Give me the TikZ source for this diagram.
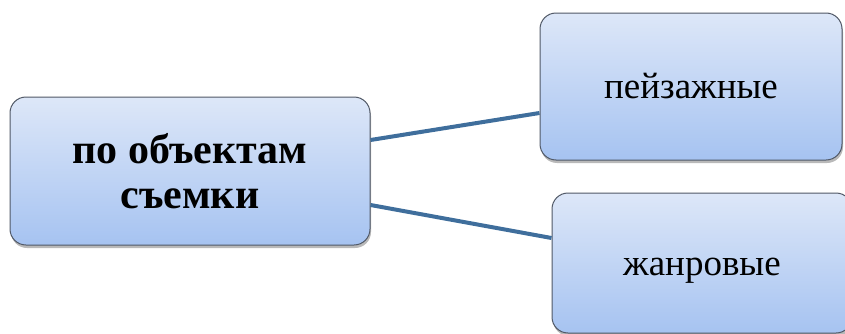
\documentclass[tikz,border=0pt]{standalone}
\usepackage{fontspec}
\setmainfont{Liberation Serif}
\usetikzlibrary{shadows}
\definecolor{boxtop}{HTML}{DDE7F8}
\definecolor{boxbot}{HTML}{A6C3F1}
\definecolor{boxedge}{HTML}{505866}
\definecolor{conn}{HTML}{3F6E9C}
\tikzset{
  box/.style={draw=boxedge, line width=1pt, rounded corners=16pt,
    top color=boxtop, bottom color=boxbot, align=center,
    inner sep=0pt, drop shadow={shadow xshift=1pt, shadow yshift=-3pt, fill=black!50, opacity=0.55}},
  link/.style={draw=conn, line width=4pt}
}
\begin{document}
\begin{tikzpicture}[x=1pt,y=1pt]
\useasboundingbox (0,0) rectangle (845,333);
\node[box, minimum width=360pt, minimum height=148pt,
  font=\fontsize{42}{45}\selectfont\bfseries] (L) at (190,162) {по объектам\\съемки};
\node[box, minimum width=302pt, minimum height=147pt,
  font=\fontsize{37}{40}\selectfont] (T) at (691,246.5) {пейзажные};
\node[box, minimum width=300pt, minimum height=140pt,
  font=\fontsize{37}{40}\selectfont, text depth=0pt] (B) at (702,70) {\raisebox{-7pt}{жанровые}};
\draw[link] ([yshift=31pt]L.east) -- ([yshift=-26.5pt]T.west);
\draw[link] ([yshift=-34pt]L.east) -- ([yshift=25pt]B.west);
\end{tikzpicture}
\end{document}
